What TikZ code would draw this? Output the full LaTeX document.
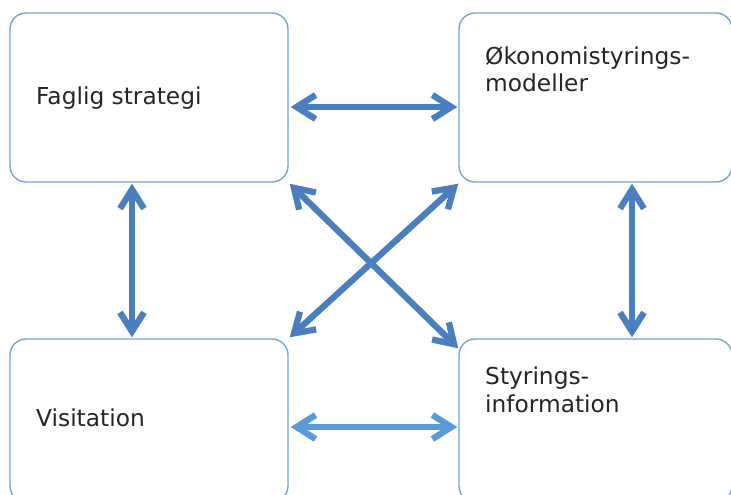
\documentclass[tikz,border=0pt]{standalone}
\usepackage{fontspec}
\setmainfont{DejaVu Sans}
\usetikzlibrary{arrows.meta}
\definecolor{boxline}{HTML}{6FA5DD}
\definecolor{arrdark}{HTML}{4A7EBE}
\definecolor{arrlight}{HTML}{5B9BD5}
\tikzset{
  box/.style={draw=boxline, line width=1.4pt, rounded corners=16pt, inner sep=0pt, fill=white},
  lbl/.style={anchor=base west, inner sep=0pt, font=\fontsize{23.3}{27.5}\selectfont, align=left, text=black!85},
  dbl/.style={line width=6.3pt, draw=#1, {Straight Barb[length=19pt,width=24pt]}-{Straight Barb[length=19pt,width=24pt]}},
}
\begin{document}
\begin{tikzpicture}[x=1pt,y=-1pt]
\useasboundingbox (0,0) rectangle (731,495);
\clip (0,0) rectangle (731,495);
\node[box, minimum width=278pt, minimum height=169pt] (b1) at (149,97.5) {};
\node[box, minimum width=273pt, minimum height=169pt] (b2) at (595.5,97.5) {};
\node[box, minimum width=278pt, minimum height=163pt] (b3) at (149,420.5) {};
\node[box, minimum width=273pt, minimum height=163pt] (b4) at (595.5,420.5) {};
\node[lbl] (t1) at (36,104) {Faglig strategi};
\node[lbl] (t2) at (485,92) {Økonomistyrings-\\modeller};
\node[lbl] (t3) at (36,426) {Visitation};
\node[lbl] (t4) at (485,412) {Styrings-\\information};
\draw[dbl=arrdark] ([shift={(2pt,-9.5pt)}]b1.east) -- ([shift={(-1pt,-9.5pt)}]b2.west);
\draw[dbl=arrlight] ([shift={(2pt,-6.5pt)}]b3.east) -- ([shift={(-1pt,-6.5pt)}]b4.west);
\draw[dbl=arrdark] ([shift={(-17pt,-1pt)}]b1.south) -- ([shift={(-17pt,1pt)}]b3.north);
\draw[dbl=arrdark] ([shift={(36.5pt,-1pt)}]b2.south) -- ([shift={(36.5pt,1pt)}]b4.north);
\draw[dbl=arrdark] ([shift={(1pt,-1pt)}]b1.south east) -- ([shift={(0pt,-10pt)}]b4.north west);
\draw[dbl=arrdark] ([shift={(0pt,-1pt)}]b2.south west) -- ([shift={(1pt,1pt)}]b3.north east);
\end{tikzpicture}
\end{document}
